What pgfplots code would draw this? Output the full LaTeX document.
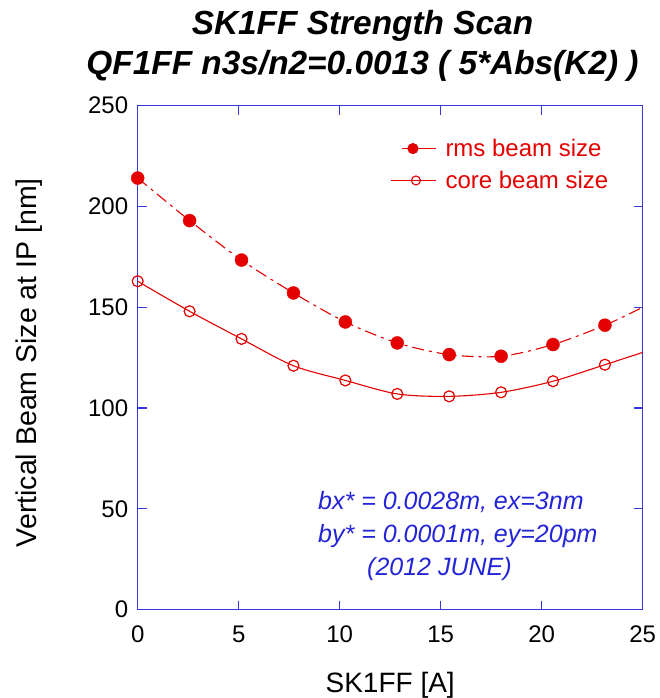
\documentclass[border=0pt]{standalone}
\usepackage{pgfplots}
\pgfplotsset{compat=1.18}
\usepackage{fontspec}
\setmainfont{Liberation Sans}
\definecolor{myred}{RGB}{228,0,0}
\definecolor{axblue}{RGB}{55,55,228}
\definecolor{txtblue}{RGB}{35,35,215}
\pgfplotsset{
  rmsleg/.style={legend image code/.code={\draw[##1, mark=none] (11pt,0pt) -- (45pt,0pt); \draw[##1] plot coordinates {(22pt,0pt)}; \path (0pt,0pt) (52pt,0pt);}},
  coreleg/.style={legend image code/.code={\draw[##1, mark=none] (0pt,0pt) -- (45pt,0pt); \draw[##1] plot coordinates {(25pt,0pt)}; \path (0pt,0pt) (52pt,0pt);}},
}
\begin{document}
\begin{tikzpicture}
\path[use as bounding box] (-137.7pt,-88.4pt) rectangle (522.3pt,609.6pt);
\begin{axis}[
  at={(0pt,0pt)}, anchor=south west,
  scale only axis, width=505pt, height=503.9pt,
  xmin=0, xmax=25, ymin=0, ymax=250,
  xtick={0,5,...,25}, ytick={0,50,...,250},
  tick align=inside, major tick length=9pt,
  axis line style={axblue, line width=1.3pt},
  every tick/.style={axblue, line width=1.3pt},
  tick label style={font=\fontsize{24}{28}\selectfont, text=black},
  /pgf/number format/assume math mode=true,
  xticklabel style={yshift=-12.5pt},
  yticklabel style={xshift=-6pt},
  legend style={at={(0.5,0.938)}, anchor=north west, draw=none, fill=none,
    font=\fontsize{24}{28}\selectfont, text=myred, row sep=9pt, inner sep=0pt},
  legend cell align=left,
  clip mode=individual,
]
% rms fitted curve
\addplot[myred, line width=1.1pt, smooth, dash pattern=on 12pt off 5pt on 3pt off 5pt, forget plot] coordinates {
 (0,214.1) (2.57,193.0) (5.14,173.4) (7.71,157.1) (10.28,142.7) (12.85,132.3)
 (15.42,126.5) (17.99,125.7) (20.56,131.5) (23.13,141.1) (25,150.0)};
\addplot[myred, only marks, mark=*, mark size=6.5pt, mark options={fill=myred, draw=myred}, forget plot] coordinates {
 (0,214.1) (2.57,193.0) (5.14,173.4) (7.71,157.1) (10.28,142.7) (12.85,132.3)
 (15.42,126.5) (17.99,125.7) (20.56,131.5) (23.13,141.1)};
% core fitted curve
\addplot[myred, line width=1.1pt, smooth, forget plot] coordinates {
 (0,162.9) (2.57,148.0) (5.14,134.3) (7.71,121.0) (10.28,113.7) (12.85,107.0)
 (15.42,105.8) (17.99,107.8) (20.56,113.3) (23.13,121.5) (25,127.6)};
\addplot[myred, only marks, mark=o, mark size=5.5pt, mark options={line width=1.2pt, fill=white, draw=myred}, forget plot] coordinates {
 (0,162.9) (2.57,148.0) (5.14,134.3) (7.71,121.0) (10.28,113.7) (12.85,107.0)
 (15.42,105.8) (17.99,107.8) (20.56,113.3) (23.13,121.5)};
\addlegendimage{myred, line width=1.1pt, mark=*, mark size=5pt, mark options={fill=myred}, rmsleg}
\addlegendentry{rms beam size}
\addlegendimage{myred, line width=1.1pt, mark=o, mark size=4.5pt, mark options={fill=white}, coreleg}
\addlegendentry{core beam size}
\end{axis}
\node[anchor=base, inner sep=0pt, font=\fontsize{33.4}{39}\selectfont\bfseries\itshape] at (224.8pt,574.6pt) {SK1FF Strength Scan};
\node[anchor=base, inner sep=0pt, font=\fontsize{33.4}{39}\selectfont\bfseries\itshape] at (224.8pt,534.6pt) {QF1FF n3s/n2=0.0013 ( 5*Abs(K2) )};
\node[anchor=base, inner sep=0pt, font=\fontsize{28}{32}\selectfont] at (252.5pt,-82.4pt) {SK1FF [A]};
\node[font=\fontsize{28.5}{33}\selectfont, rotate=90] at (-109pt,247pt) {Vertical Beam Size at IP [nm]};
\node[anchor=base west, inner sep=0pt, text=txtblue, font=\fontsize{25}{30}\selectfont\itshape] at (180.3pt,99.6pt) {bx* = 0.0028m, ex=3nm};
\node[anchor=base west, inner sep=0pt, text=txtblue, font=\fontsize{25}{30}\selectfont\itshape] at (180.3pt,66.6pt) {by* = 0.0001m, ey=20pm};
\node[anchor=base west, inner sep=0pt, text=txtblue, font=\fontsize{25}{30}\selectfont\itshape] at (229.3pt,33.6pt) {(2012 JUNE)};
\end{tikzpicture}
\end{document}
